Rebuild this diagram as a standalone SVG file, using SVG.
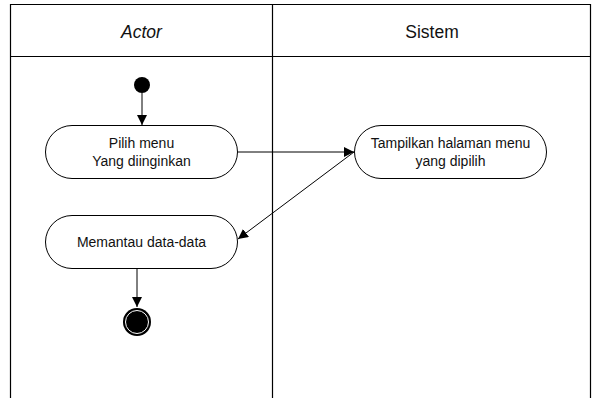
<svg xmlns="http://www.w3.org/2000/svg" width="595" height="398" viewBox="0 0 595 398">
<defs>
<style>
.lane{fill:none;stroke:#000;stroke-width:1.2}
.act{fill:#fff;stroke:#000;stroke-width:1}
.t{font-family:"Liberation Sans",Arial,sans-serif;font-size:14px;fill:#111;text-anchor:middle}
.h{font-family:"Liberation Sans",Arial,sans-serif;font-size:17.5px;fill:#111;text-anchor:middle}
.c{fill:none;stroke:#000;stroke-width:1;marker-end:url(#arr)}
</style>
<marker id="arr" viewBox="0 0 10 10" refX="10" refY="5" markerWidth="10" markerHeight="10" markerUnits="userSpaceOnUse" orient="auto">
<path d="M0,0 L10,5 L0,10 Z" fill="#000"/>
</marker>
</defs>
<rect width="595" height="398" fill="#fff"/>
<g id="swimlanes">
<path class="lane" d="M10.5,398 V4.5 H590.5 V398 M272.5,4.5 V398 M10.5,56.5 H590.5"/>
<text class="h" x="141.5" y="38" font-style="italic">Actor</text>
<text class="h" x="432" y="38">Sistem</text>
</g>
<g id="connectors">
<line class="c" x1="142" y1="93" x2="142" y2="125"/>
<line class="c" x1="238" y1="152" x2="354" y2="152"/>
<line class="c" x1="354" y1="152" x2="238" y2="239"/>
<line class="c" x1="137" y1="269" x2="137" y2="307"/>
</g>
<g id="start">
<circle cx="142" cy="85" r="8" fill="#000"/>
</g>
<g id="pilih">
<rect class="act" x="45.5" y="125.5" width="192" height="53" rx="26.5"/>
<text class="t" x="141.5" y="148">Pilih menu</text>
<text class="t" x="141.5" y="166">Yang diinginkan</text>
</g>
<g id="tampilkan">
<rect class="act" x="354.5" y="125.5" width="192" height="53" rx="26.5"/>
<text class="t" x="450.5" y="148">Tampilkan halaman menu</text>
<text class="t" x="450.5" y="166">yang dipilih</text>
</g>
<g id="memantau">
<rect class="act" x="45.5" y="215.5" width="192" height="53" rx="26.5"/>
<text class="t" x="141.5" y="247">Memantau data-data</text>
</g>
<g id="end">
<circle cx="137" cy="322" r="14" fill="#000"/>
<circle cx="137" cy="322" r="11.5" fill="none" stroke="#fff" stroke-width="1"/>
</g>
</svg>
